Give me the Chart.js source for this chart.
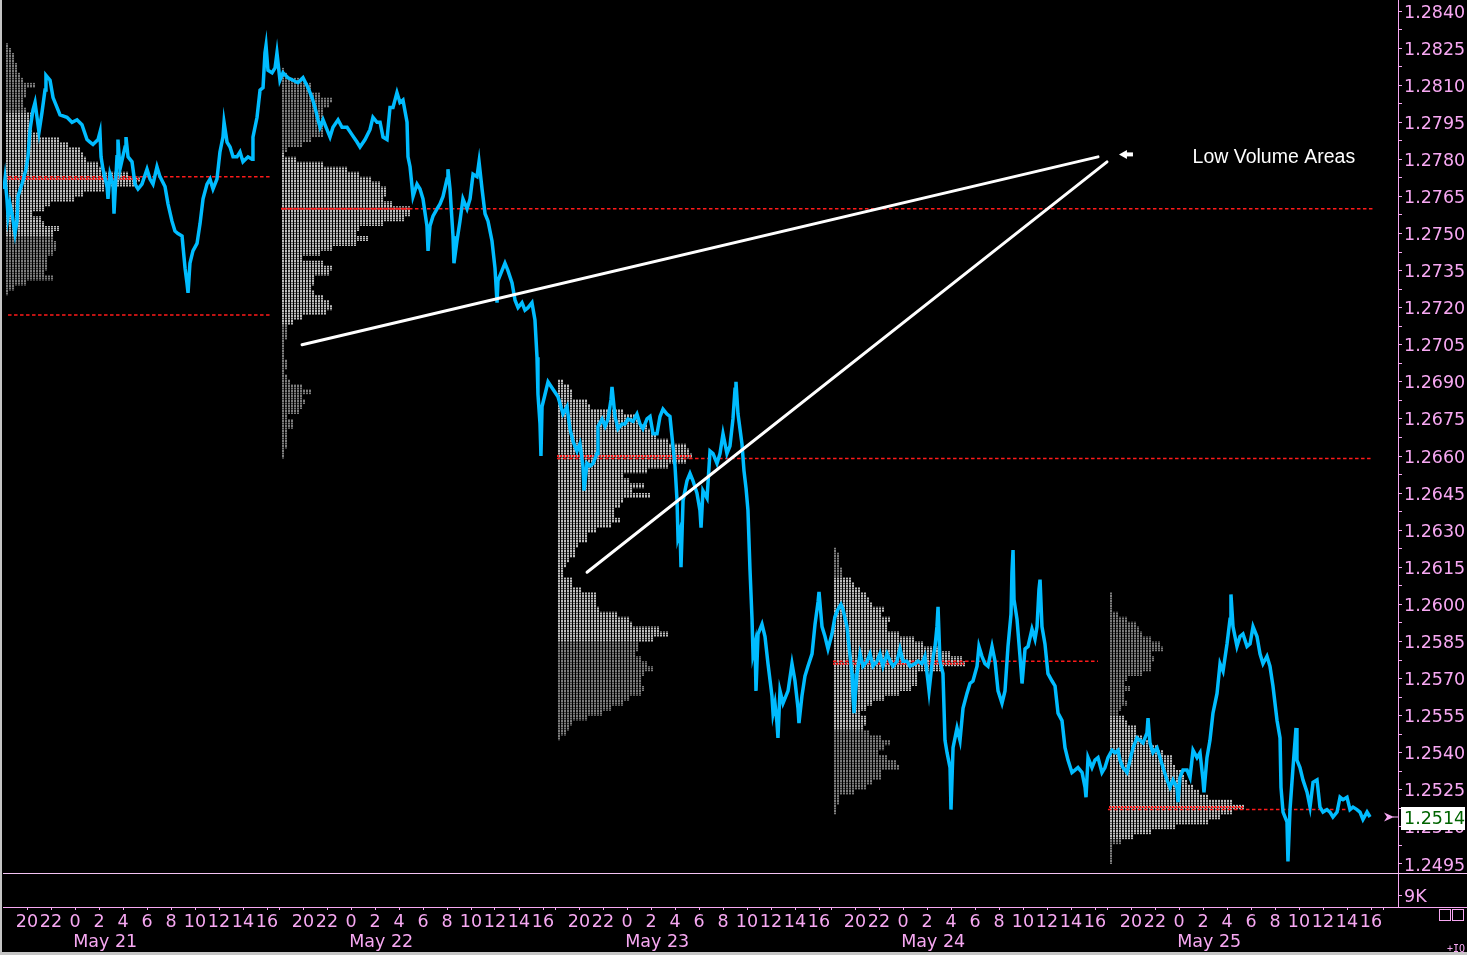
<!DOCTYPE html>
<html>
<head>
<meta charset="utf-8">
<title>Volume profile</title>
<script src="https://cdn.jsdelivr.net/npm/chart.js@4.4.1/dist/chart.umd.min.js"></script>
<style>
html,body{margin:0;padding:0;background:#000;overflow:hidden;}
canvas{display:block;}
</style>
</head>
<body>
<canvas id="chart" width="1467" height="955"></canvas>
<script>
// ================= DATA =================
const sessionLabels = ['May 21', 'May 22', 'May 23', 'May 24', 'May 25'];
const sessionHours = 23; // each session 18:00 -> 17:00
const hourLabels = ['20', '22', '0', '2', '4', '6', '8', '10', '12', '14', '16'];
const priceTickLabels = ['1.2495','1.2510','1.2525','1.2540','1.2555','1.2570','1.2585','1.2600',
  '1.2615','1.2630','1.2645','1.2660','1.2675','1.2690','1.2705','1.2720','1.2735','1.2750',
  '1.2765','1.2780','1.2795','1.2810','1.2825','1.2840'];
const volumeTickValues = [9];
const volumeTickLabels = ['9K'];
const lastPrice = 1.2514;

// price series: [hours since first session open, price]
const priceMay21 = [[0.08,1.2768],[0.17,1.2772],[0.33,1.2764],[0.42,1.2757],[0.58,1.2762],[0.75,1.2758],[1.0,1.2750],[1.17,1.2755],[1.25,1.2765],[1.58,1.2770],[1.92,1.2776],[2.08,1.2781],[2.25,1.2792],[2.5,1.2800],[2.67,1.2803],[3.0,1.2791],[3.25,1.2799],[3.5,1.2808],[3.58,1.2814],[3.92,1.2812],[4.17,1.2805],[4.5,1.2801],[4.75,1.2798],[5.33,1.2797],[5.75,1.2795],[6.17,1.2796],[6.58,1.2794],[7.0,1.2788],[7.25,1.2787],[7.5,1.2786],[7.92,1.2788],[8.08,1.2791],[8.17,1.2781],[8.33,1.2776],[8.67,1.2769],[8.75,1.2764],[8.92,1.2774],[9.17,1.2770],[9.25,1.2758],[9.5,1.2781],[9.58,1.2788],[9.75,1.2776],[10.17,1.2785],[10.25,1.2789],[10.42,1.2781],[10.75,1.2779],[11.0,1.2770],[11.25,1.2768],[11.58,1.2770],[12.0,1.2776],[12.25,1.2772],[12.5,1.2770],[12.83,1.2777],[13.08,1.2773],[13.5,1.2769],[13.75,1.2762],[14.08,1.2755],[14.33,1.2751],[14.58,1.2750],[14.92,1.2749],[15.17,1.2736],[15.33,1.2730],[15.42,1.2726],[15.58,1.2738],[15.83,1.2743],[16.17,1.2746],[16.42,1.2754],[16.67,1.2764],[17.0,1.2770],[17.25,1.2772],[17.5,1.2768],[17.83,1.2772],[18.08,1.2783],[18.33,1.2789],[18.42,1.2795],[18.67,1.2787],[18.92,1.2785],[19.17,1.2781],[19.5,1.2781],[19.75,1.2783],[20.0,1.2779],[20.42,1.2781],[20.75,1.2780],[20.83,1.2789],[21.17,1.2797],[21.42,1.2808],[21.67,1.2809],[21.83,1.2823],[21.92,1.2826],[22.08,1.2816],[22.42,1.2815],[22.67,1.2817],[22.83,1.2823],[23.08,1.2812]];
const priceMay22 = [[23.33,1.2815],[23.75,1.2813],[24.17,1.2812],[24.58,1.2811],[25.0,1.2813],[25.42,1.2809],[25.75,1.2805],[26.0,1.2801],[26.25,1.2796],[26.42,1.2793],[26.67,1.2796],[27.0,1.2792],[27.25,1.2789],[27.5,1.2793],[27.92,1.2796],[28.25,1.2793],[28.67,1.2793],[29.08,1.2790],[29.5,1.2787],[29.75,1.2785],[30.17,1.2788],[30.58,1.2792],[30.83,1.2797],[31.17,1.2795],[31.42,1.2795],[31.67,1.2789],[32.0,1.2788],[32.25,1.2801],[32.5,1.2801],[32.83,1.2807],[33.08,1.2803],[33.33,1.2804],[33.67,1.2795],[33.75,1.2781],[33.92,1.2777],[34.17,1.2765],[34.5,1.2770],[34.75,1.2768],[35.0,1.2764],[35.33,1.2753],[35.42,1.2743],[35.58,1.2753],[35.83,1.2757],[36.17,1.2760],[36.42,1.2762],[36.67,1.2765],[37.0,1.2772],[37.08,1.2776],[37.25,1.2768],[37.5,1.2749],[37.58,1.2738],[37.83,1.2747],[38.08,1.2755],[38.33,1.2764],[38.67,1.2760],[38.92,1.2764],[39.17,1.2774],[39.5,1.2773],[39.67,1.2779],[39.92,1.2768],[40.17,1.2758],[40.42,1.2755],[40.75,1.2747],[41.0,1.2736],[41.17,1.2722],[41.25,1.2731],[41.58,1.2735],[41.83,1.2738],[42.08,1.2735],[42.42,1.2730],[42.67,1.2723],[42.92,1.2720],[43.25,1.2722],[43.5,1.2719],[43.75,1.2720],[44.08,1.2722],[44.33,1.2715],[44.5,1.2700],[44.58,1.2685],[44.75,1.2673],[44.83,1.2660],[44.92,1.2680]];
const priceMay23 = [[45.17,1.2685],[45.42,1.2690],[45.83,1.2687],[46.25,1.2684],[46.67,1.2677],[47.0,1.2680],[47.25,1.2671],[47.5,1.2666],[47.83,1.2662],[48.08,1.2665],[48.33,1.2656],[48.42,1.2646],[48.67,1.2657],[48.92,1.2656],[49.17,1.2657],[49.5,1.2661],[49.58,1.2672],[49.92,1.2675],[50.17,1.2672],[50.42,1.2675],[50.67,1.2683],[50.75,1.2688],[51.0,1.2676],[51.25,1.2671],[51.58,1.2673],[51.83,1.2673],[52.08,1.2675],[52.5,1.2674],[52.83,1.2677],[53.08,1.2673],[53.33,1.2671],[53.67,1.2675],[53.92,1.2676],[54.17,1.2669],[54.5,1.2669],[54.75,1.2676],[55.0,1.2679],[55.33,1.2677],[55.58,1.2676],[55.83,1.2664],[56.0,1.2656],[56.17,1.2642],[56.25,1.2627],[56.42,1.2630],[56.5,1.2615],[56.67,1.2642],[57.0,1.2650],[57.25,1.2653],[57.5,1.2650],[57.83,1.2645],[58.08,1.2638],[58.17,1.2631],[58.33,1.2646],[58.67,1.2643],[58.92,1.2662],[59.17,1.2661],[59.5,1.2657],[59.75,1.2661],[60.0,1.2669],[60.33,1.2661],[60.58,1.2664],[60.83,1.2675],[61.0,1.2687],[61.08,1.2690],[61.25,1.2677],[61.58,1.2665],[61.75,1.2654],[61.92,1.2647],[62.08,1.2638],[62.25,1.2614],[62.42,1.2594],[62.5,1.2580],[62.67,1.2584],[62.75,1.2565],[62.92,1.2588],[63.25,1.2592],[63.5,1.2587],[63.75,1.2576],[64.08,1.2563],[64.17,1.2556],[64.33,1.2560],[64.5,1.2552],[64.58,1.2546],[64.75,1.2565],[65.0,1.2560],[65.42,1.2565],[65.75,1.2576],[66.0,1.2569],[66.25,1.2558],[66.33,1.2552],[66.58,1.2563],[66.83,1.2571],[67.08,1.2575],[67.42,1.2580],[67.67,1.2592],[67.92,1.2601],[68.0,1.2605],[68.25,1.2591],[68.5,1.2587],[68.75,1.2582],[69.08,1.2588],[69.33,1.2595],[69.58,1.2598]];
const priceMay24 = [[69.83,1.2600],[70.0,1.2598],[70.33,1.2591],[70.5,1.2583],[70.75,1.2572],[70.83,1.2563],[70.92,1.2556],[71.17,1.2572],[71.42,1.2580],[71.67,1.2575],[72.0,1.2577],[72.25,1.2580],[72.5,1.2575],[72.83,1.2577],[73.08,1.2580],[73.33,1.2575],[73.67,1.2580],[73.92,1.2577],[74.17,1.2575],[74.5,1.2577],[74.75,1.2582],[75.0,1.2577],[75.33,1.2577],[75.58,1.2575],[76.0,1.2576],[76.25,1.2577],[76.58,1.2576],[76.83,1.2579],[77.08,1.2569],[77.17,1.2565],[77.42,1.2576],[77.67,1.2583],[77.83,1.2591],[77.92,1.2599],[78.08,1.2577],[78.33,1.2572],[78.5,1.2545],[78.67,1.2540],[78.92,1.2534],[79.0,1.2517],[79.17,1.2542],[79.5,1.2550],[79.75,1.2545],[80.0,1.2558],[80.33,1.2564],[80.58,1.2568],[80.83,1.2569],[81.17,1.2575],[81.33,1.2583],[81.58,1.2579],[81.83,1.2576],[82.08,1.2575],[82.42,1.2583],[82.67,1.2577],[82.92,1.2565],[83.25,1.2560],[83.5,1.2565],[83.75,1.2583],[84.0,1.2596],[84.08,1.2613],[84.17,1.2622],[84.25,1.2602],[84.5,1.2594],[84.75,1.2579],[84.92,1.2568],[85.17,1.2582],[85.42,1.2583],[85.75,1.2590],[86.0,1.2586],[86.17,1.2591],[86.33,1.2606],[86.42,1.2610],[86.58,1.2591],[86.83,1.2584],[87.08,1.2572],[87.42,1.2569],[87.67,1.2567],[87.92,1.2556],[88.25,1.2553],[88.5,1.2542],[88.75,1.2537],[89.08,1.2532],[89.33,1.2533],[89.58,1.2534],[89.92,1.2532],[90.17,1.2526],[90.25,1.2522],[90.42,1.2538],[90.75,1.2534],[91.0,1.2537],[91.25,1.2538],[91.58,1.2532],[91.83,1.2534],[92.08,1.2538],[92.42,1.2541],[92.67,1.2540],[92.92,1.2541]];
const priceMay25 = [[93.08,1.2537],[93.33,1.2534],[93.67,1.2532],[93.92,1.2537],[94.17,1.2542],[94.5,1.2546],[94.75,1.2545],[95.0,1.2544],[95.33,1.2548],[95.42,1.2554],[95.58,1.2544],[95.83,1.2540],[96.17,1.2542],[96.42,1.2538],[96.67,1.2534],[97.0,1.2529],[97.25,1.2526],[97.5,1.2529],[97.83,1.2526],[97.92,1.2520],[98.08,1.2530],[98.33,1.2533],[98.67,1.2533],[98.92,1.2530],[99.17,1.2541],[99.5,1.2538],[99.75,1.2540],[100.0,1.2529],[100.08,1.2524],[100.33,1.2538],[100.58,1.2545],[100.83,1.2556],[101.17,1.2564],[101.42,1.2576],[101.67,1.2573],[102.0,1.2584],[102.25,1.2594],[102.33,1.2604],[102.5,1.2591],[102.83,1.2583],[103.08,1.2587],[103.33,1.2588],[103.67,1.2583],[103.92,1.2584],[104.17,1.2591],[104.5,1.2587],[104.75,1.2580],[105.0,1.2576],[105.33,1.2579],[105.58,1.2575],[105.83,1.2567],[106.17,1.2553],[106.42,1.2546],[106.5,1.2526],[106.67,1.2516],[107.0,1.2512],[107.08,1.2496],[107.25,1.2517],[107.5,1.2534],[107.75,1.2550],[107.83,1.2537],[108.08,1.2534],[108.33,1.2529],[108.67,1.2524],[108.92,1.2518],[109.17,1.2528],[109.5,1.2529],[109.75,1.2518],[110.0,1.2516],[110.33,1.2517],[110.58,1.2516],[110.83,1.2514],[111.17,1.2516],[111.42,1.2522],[111.67,1.2521],[112.0,1.2522],[112.25,1.2517],[112.5,1.2518],[112.83,1.2517],[113.08,1.2516],[113.33,1.2513],[113.67,1.2516],[113.92,1.2514]];

// volume profiles: one value per 2-pip price bin, from profileTop downward
const profileBin = 0.0002;
const profileTop = [1.2826, 1.2816, 1.2690, 1.2622, 1.2604];
const valueAreaHigh = [1.2798, 1.2782, 1.2690, 1.2610, 1.2554];
const valueAreaLow  = [1.2750, 1.2714, 1.2586, 1.2550, 1.2506];
const volMay21 = [1,2,3,3,4,4,5,6,10,7,7,6,6,7,9,8,8,9,11,18,21,25,26,27,31,33,41,45,44,33,26,23,15,13,9,12,13,18,16,16,17,17,16,14,14,14,13,16,7,3,1];
const volMay22 = [1,2,7,10,10,13,17,16,14,14,14,15,14,14,10,7,2,1,5,14,22,26,30,33,35,35,34,37,43,43,41,34,26,25,29,25,17,13,7,14,17,16,11,11,10,11,14,16,17,15,7,4,2,2,2,1,1,1,1,2,2,1,2,3,7,10,7,8,7,6,2,4,4,2,2,2,2,1,1];
const volMay23 = [2,4,5,5,10,11,22,26,27,30,32,33,37,43,44,45,43,37,30,22,24,29,25,31,22,21,19,19,21,18,13,10,10,7,6,6,4,3,2,2,5,5,8,13,13,13,14,20,24,25,34,37,32,27,27,26,28,30,32,29,28,28,29,28,24,22,18,15,10,5,4,3,1];
const volMay24 = [1,2,2,2,3,3,6,7,9,11,12,13,17,16,19,18,18,22,27,30,36,39,43,44,36,28,28,28,26,22,17,13,11,9,11,11,10,12,16,19,17,15,18,21,22,16,16,13,11,7,2,2,1,1];
const volMay25 = [1,1,1,1,3,6,9,10,11,14,17,18,14,15,14,14,11,6,5,7,5,5,6,4,3,5,6,9,9,11,13,16,18,21,21,22,24,25,26,28,30,33,41,45,41,37,33,22,14,8,4,1,1,1,1];

// naked point-of-control lines: price, from, to (hours)
const pocLinePrice = [1.2773, 1.2717, 1.2760, 1.2659, 1.2577, 1.2517];
const pocLineFrom  = [0.42, 0.42, 23.33, 46.17, 69.17, 92.08];
const pocLineTo    = [22.25, 22.25, 114.17, 114.17, 91.25, 112.08];

// annotation
const annotationLines = [[[24.92, 1.2705], [91.25, 1.2781]], [[48.67, 1.2613], [92.0, 1.2779]]];
const annotationText = 'Low Volume Areas';
const annotationTextAt = [99.13, 1.2781];
const annotationArrowAt = [93.58, 1.2782];

// ================= STYLE =================
const PINK = '#f7a8f2';
const SEP = '#f4c4f4';
const AXIS_FONT = {family: '"DejaVu Sans", sans-serif', size: 17.5, lineHeight: 1.2};
const X_MAX = 116.25;
const Y_MIN = 1.249135, Y_MAX = 1.284445;
const profileGap = 0.17;     // hours between session open and profile base
const volumeToHours = 0.25;  // one volume unit drawn as a quarter hour wide
const PRICE_COLOR = '#00bcff';

function dotPattern(color) {
  const c = document.createElement('canvas');
  c.width = 3; c.height = 5;
  const g = c.getContext('2d');
  g.fillStyle = color;
  g.fillRect(0, 0, 2, 2);
  g.fillRect(0, 2.5, 2, 2);
  return g.createPattern(c, 'repeat');
}
const lightDots = dotPattern('#bdbdbd');
const darkDots = dotPattern('#7c7c7c');

// ================= BUILD =================
const profileVolumes = [volMay21, volMay22, volMay23, volMay24, volMay25];
const allPrices = [].concat(priceMay21, priceMay22, priceMay23, priceMay24, priceMay25)
  .map(([t, p]) => ({x: t, y: p}));

function binPrice(s, k) { return Math.round((profileTop[s] - k * profileBin) * 1e5) / 1e5; }

function profileRows(inValueArea) {
  const pts = [];
  profileVolumes.forEach((vols, s) => {
    const start = s * sessionHours + profileGap;
    vols.forEach((v, k) => {
      const p = binPrice(s, k);
      const inside = p <= valueAreaHigh[s] + 1e-7 && p >= valueAreaLow[s] - 1e-7;
      if (inside !== inValueArea) return;
      pts.push({x: start, y: p}, {x: start + v * volumeToHours, y: p}, {x: start, y: null});
    });
  });
  return pts;
}

function pocRows() {
  const pts = [];
  profileVolumes.forEach((vols, s) => {
    const start = s * sessionHours + profileGap;
    let k = 0;
    vols.forEach((v, i) => { if (v > vols[k]) k = i; });
    const p = binPrice(s, k);
    pts.push({x: start, y: p}, {x: start + vols[k] * volumeToHours, y: p}, {x: start, y: null});
  });
  return pts;
}

function pocLines() {
  const pts = [];
  pocLinePrice.forEach((p, i) => {
    pts.push({x: pocLineFrom[i], y: p}, {x: pocLineTo[i], y: p}, {x: pocLineTo[i], y: null});
  });
  return pts;
}

function annotationPts() {
  const pts = [];
  annotationLines.forEach(([a, b]) => {
    pts.push({x: a[0], y: a[1]}, {x: b[0], y: b[1]}, {x: b[0], y: null});
  });
  return pts;
}

// axis ticks
const yTicks = [];
priceTickLabels.forEach((lbl, i) => {
  const v = parseFloat(lbl);
  if (i > 0) yTicks.push({value: (v + parseFloat(priceTickLabels[i - 1])) / 2, label: ''});
  yTicks.push({value: v, label: lbl});
});
const xTicks = [];
sessionLabels.forEach((_, s) => {
  const base = s * sessionHours;
  if (s > 0) xTicks.push({value: base, label: ''});
  hourLabels.forEach((lbl, j) => xTicks.push({value: base + 2 + 2 * j, label: lbl}));
});
xTicks.push({value: sessionLabels.length * sessionHours, label: ''});
const dateTicks = sessionLabels.map((lbl, s) => ({value: s * sessionHours + 5.85, label: lbl}));

const base = {pointRadius: 0, pointHoverRadius: 0, spanGaps: false, tension: 0, fill: false, yAxisID: 'y', xAxisID: 'x'};

const overlay = {
  id: 'overlay',
  beforeDraw(chart) {
    const ctx = chart.ctx;
    ctx.save();
    ctx.fillStyle = '#000';
    ctx.fillRect(0, 0, chart.width, chart.height);
    ctx.restore();
  },
  afterDraw(chart) {
    const {ctx} = chart;
    const x = chart.scales.x, y = chart.scales.y;
    ctx.save();
    // pane separator
    const sy = Math.round(y.bottom) + 0.5;
    ctx.strokeStyle = SEP; ctx.lineWidth = 1;
    ctx.beginPath(); ctx.moveTo(x.left, sy); ctx.lineTo(chart.width, sy); ctx.stroke();
    const ay = Math.round(x.top) + 0.5;
    ctx.strokeStyle = PINK;
    ctx.beginPath(); ctx.moveTo(y.left, ay); ctx.lineTo(chart.width, ay); ctx.stroke();
    // window frame
    ctx.fillStyle = '#c4c4c4';
    ctx.fillRect(0, 0, 2, chart.height);
    ctx.fillRect(0, chart.height - 3, chart.width, 3);

    // annotation arrow and text
    const axp = x.getPixelForValue(annotationArrowAt[0]);
    const ayp = y.getPixelForValue(annotationArrowAt[1]);
    ctx.fillStyle = '#ffffff';
    ctx.beginPath();
    ctx.moveTo(axp - 7, ayp);
    ctx.lineTo(axp + 1, ayp - 4.5);
    ctx.lineTo(axp + 1, ayp + 4.5);
    ctx.closePath();
    ctx.fill();
    ctx.fillRect(axp, ayp - 2, 7, 4);
    ctx.font = '19.5px "Liberation Sans", Arial, sans-serif';
    ctx.textAlign = 'left'; ctx.textBaseline = 'middle';
    ctx.fillText(annotationText, x.getPixelForValue(annotationTextAt[0]), y.getPixelForValue(annotationTextAt[1]) + 1);

    // last price marker
    const py = y.getPixelForValue(lastPrice);
    ctx.fillStyle = '#ffffff';
    ctx.fillRect(y.left + 3, Math.round(py) - 10, 64, 23);
    ctx.fillStyle = '#006400';
    ctx.font = '17.5px "DejaVu Sans", sans-serif';
    ctx.fillText(lastPrice.toFixed(4), y.left + 6, py + 2);
    ctx.fillStyle = PINK;
    ctx.beginPath();
    ctx.moveTo(y.left - 14, py - 4.5);
    ctx.lineTo(y.left - 4, py);
    ctx.lineTo(y.left - 14, py + 4.5);
    ctx.lineTo(y.left - 11, py);
    ctx.closePath();
    ctx.fill();
    ctx.fillRect(y.left - 5, Math.round(py) - 0.5, 5, 1);

    // window buttons and badge
    ctx.strokeStyle = PINK; ctx.lineWidth = 1;
    ctx.strokeRect(1439.5, 909.5, 11, 11);
    ctx.strokeRect(1452.5, 909.5, 11, 11);
    ctx.fillStyle = PINK;
    ctx.font = '10px "DejaVu Sans Mono", monospace';
    ctx.textAlign = 'right'; ctx.textBaseline = 'alphabetic';
    ctx.fillText('+IQ', 1465, 952);
    ctx.restore();
  }
};

new Chart(document.getElementById('chart'), {
  type: 'line',
  data: {
    datasets: [
      Object.assign({}, base, {label: 'annotation', data: annotationPts(), borderColor: '#ffffff', borderWidth: 3, borderCapStyle: 'round', order: 1}),
      Object.assign({}, base, {label: 'price', data: allPrices, borderColor: PRICE_COLOR, borderWidth: 3.5, order: 2}),
      Object.assign({}, base, {label: 'poc rows', data: pocRows(), borderColor: '#ff2020', borderWidth: 2, borderDash: [2, 1], order: 3}),
      Object.assign({}, base, {label: 'naked poc', data: pocLines(), borderColor: '#ff1a1a', borderWidth: 1.5, borderDash: [3.5, 2.5], order: 4}),
      Object.assign({}, base, {label: 'value area', data: profileRows(true), borderColor: lightDots, borderWidth: 4.95, order: 5}),
      Object.assign({}, base, {label: 'profile', data: profileRows(false), borderColor: darkDots, borderWidth: 4.95, order: 6})
    ]
  },
  options: {
    responsive: false,
    devicePixelRatio: 1,
    animation: false,
    events: [],
    layout: {padding: {left: 3, right: 0, top: 0, bottom: 0}},
    plugins: {legend: {display: false}, tooltip: {enabled: false}},
    scales: {
      x: {
        type: 'linear', position: 'bottom', min: 0, max: X_MAX,
        grid: {display: true, drawOnChartArea: false, drawTicks: true, tickLength: 3, color: PINK},
        border: {display: true, color: PINK, width: 1},
        ticks: {color: PINK, font: AXIS_FONT, autoSkip: false, maxRotation: 0, minRotation: 0, padding: 2,
          callback: (v, i) => (xTicks[i] ? xTicks[i].label : '')},
        afterBuildTicks: s => { s.ticks = xTicks.map(t => ({value: t.value})); },
        afterFit: s => { s.height = 23; s.paddingLeft = 0; s.paddingRight = 0; }
      },
      x2: {
        type: 'linear', position: 'bottom', min: 0, max: X_MAX,
        grid: {display: false, drawTicks: false},
        border: {display: false},
        ticks: {color: PINK, font: AXIS_FONT, autoSkip: false, maxRotation: 0, minRotation: 0, padding: 2, align: 'start',
          callback: (v, i) => (dateTicks[i] ? dateTicks[i].label : '')},
        afterBuildTicks: s => { s.ticks = dateTicks.map(t => ({value: t.value})); },
        afterFit: s => { s.height = 25; s.paddingLeft = 0; s.paddingRight = 0; }
      },
      y: {
        type: 'linear', position: 'right', min: Y_MIN, max: Y_MAX,
        stack: 'panes', stackWeight: 873, offset: false,
        grid: {display: true, drawOnChartArea: false, drawTicks: true, tickLength: 4, color: PINK},
        border: {display: true, color: PINK, width: 1},
        ticks: {color: PINK, font: AXIS_FONT, autoSkip: false, padding: 2, labelOffset: 2,
          callback: (v, i) => (yTicks[i] ? yTicks[i].label : '')},
        afterBuildTicks: s => { s.ticks = yTicks.map(t => ({value: t.value})); },
        afterFit: s => { s.width = 69; s.paddingTop = 0; s.paddingBottom = 0; }
      },
      yv: {
        type: 'linear', position: 'right', min: 0, max: 27,
        stack: 'panes', stackWeight: 34, offset: false,
        grid: {display: true, drawOnChartArea: false, drawTicks: true, tickLength: 4, color: PINK},
        border: {display: true, color: PINK, width: 1},
        ticks: {color: PINK, font: AXIS_FONT, autoSkip: false, padding: 2, labelOffset: 2,
          callback: (v, i) => (volumeTickLabels[i] || '')},
        afterBuildTicks: s => { s.ticks = volumeTickValues.map(v => ({value: v})); },
        afterFit: s => { s.width = 69; s.paddingTop = 0; s.paddingBottom = 0; }
      }
    }
  },
  plugins: [overlay]
});
</script>
</body>
</html>
